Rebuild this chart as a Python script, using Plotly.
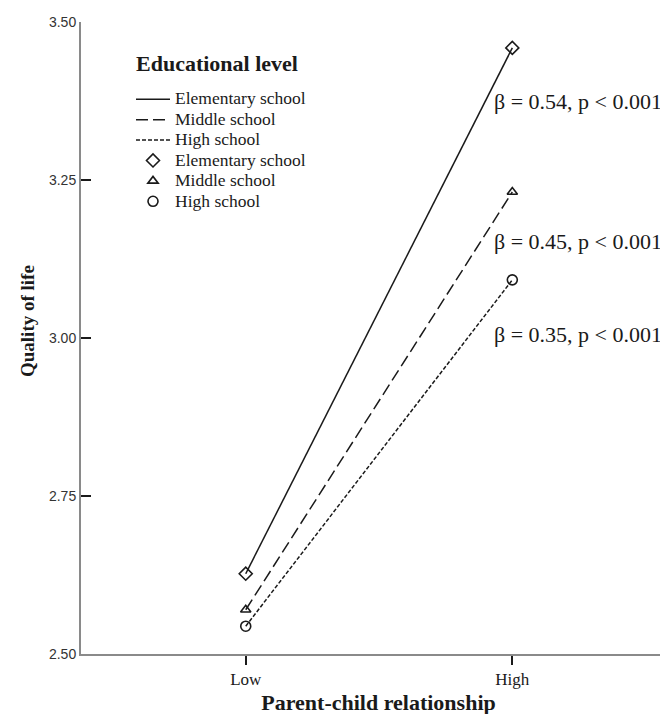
import plotly.graph_objects as go

categories = ["Low", "High"]
elementary = [2.627, 3.459]
middle = [2.570, 3.231]
high = [2.544, 3.092]
series_names = ["Elementary school", "Middle school", "High school"]
legend_title = "Educational level"
beta_labels = ["β = 0.54, p < 0.001", "β = 0.45, p < 0.001", "β = 0.35, p < 0.001"]
beta_y = [3.375, 3.153, 3.005]
y_ticks = [2.50, 2.75, 3.00, 3.25, 3.50]

SERIF = "Liberation Serif, Times New Roman, serif"
SANS = "Liberation Sans, Arial, sans-serif"
INK = "#1a1a1a"

W, H = 668, 714
ML, MR, MT, MB = 73, 0, 14, 68
PW, PH = W - ML - MR, H - MT - MB


def px_x(p):
    return (p - ML) / PW


def px_y(p):
    return (H - MB - p) / PH


values = [elementary, middle, high]
dashes = ["solid", "12px,5px", "4px,2px"]
symbols = ["diamond-open", "triangle-up-open", "circle-open"]
sizes = [10, 9, 10]


def leg(name):
    return f"<span style='font-size:17.5px'>{name}</span>"


fig = go.Figure()
for name, vals, dash in zip(series_names, values, dashes):
    fig.add_trace(go.Scatter(
        x=categories, y=vals, mode="lines", name=leg(name),
        line=dict(color=INK, width=1.5, dash=dash),
    ))
for name, vals, sym, sz in zip(series_names, values, symbols, sizes):
    fig.add_trace(go.Scatter(
        x=categories, y=vals, mode="markers", name=leg(name),
        marker=dict(symbol=sym, size=sz, color=INK, line=dict(width=1.6, color=INK)),
    ))

for txt, yv in zip(beta_labels, beta_y):
    fig.add_annotation(
        x=0.925, y=yv, xref="x", yref="y", text=txt, showarrow=False,
        xanchor="left", yanchor="middle",
        font=dict(family=SERIF, size=22, color=INK),
    )

# legend heading
fig.add_annotation(
    x=px_x(126), y=px_y(55), xref="paper", yref="paper",
    text=f"<b>{legend_title}</b>", showarrow=False,
    xanchor="left", yanchor="middle",
    font=dict(family=SERIF, size=22, color=INK),
)
# y-axis title
fig.add_annotation(
    x=px_x(19), y=px_y(313), xref="paper", yref="paper",
    text="<b>Quality of life</b>", showarrow=False, textangle=-90,
    xanchor="center", yanchor="middle",
    font=dict(family=SERIF, size=19, color=INK),
)

fig.update_layout(
    width=W, height=H,
    margin=dict(l=ML, r=MR, t=MT, b=MB),
    paper_bgcolor="white", plot_bgcolor="white",
    showlegend=True,
    legend=dict(
        x=px_x(123), y=px_y(76), xanchor="left", yanchor="top",
        bgcolor="rgba(0,0,0,0)", borderwidth=0,
        font=dict(family=SERIF, size=13.4, color=INK),
        traceorder="normal", tracegroupgap=0, itemwidth=34,
    ),
    xaxis=dict(
        type="category", categoryorder="array", categoryarray=categories,
        range=[-0.618, 1.614],
        showline=True, linecolor="#8a8a8a", linewidth=2,
        ticks="outside", ticklen=9, tickwidth=1.5, tickcolor=INK,
        showgrid=False, zeroline=False,
        tickfont=dict(family=SERIF, size=17, color=INK),
        title=dict(text="<b>Parent-child relationship</b>",
                   font=dict(family=SERIF, size=22, color=INK), standoff=6),
    ),
    yaxis=dict(
        range=[2.5, 3.5],
        tickvals=y_ticks, ticktext=[f"{v:.2f}" for v in y_ticks],
        showline=True, linecolor="#8a8a8a", linewidth=2,
        ticks="inside", ticklen=10, tickwidth=1.5, tickcolor=INK,
        showgrid=False, zeroline=False,
        tickfont=dict(family=SANS, size=14, color="#333333"),
    ),
)

fig.write_html("out.html")
